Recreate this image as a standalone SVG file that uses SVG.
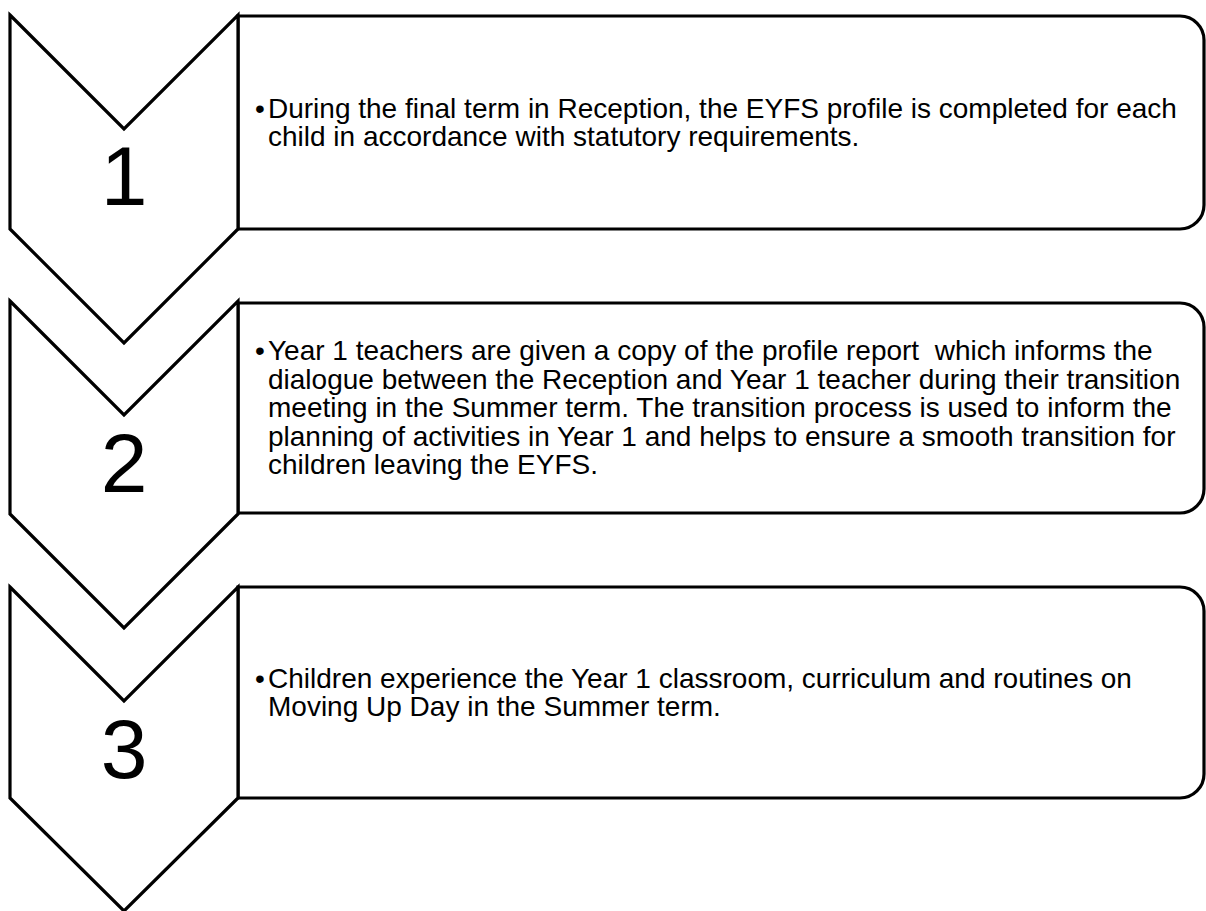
<svg xmlns="http://www.w3.org/2000/svg" width="1206" height="911" viewBox="0 0 1206 911">
<style>
.shape{fill:#fff;stroke:#000;stroke-width:3.2;stroke-linejoin:miter}
.num{font-family:"Liberation Sans",Arial,sans-serif;font-size:84px;text-anchor:middle;fill:#000}
.txt{font-family:"Liberation Sans",Arial,sans-serif;font-size:28px;fill:#000;white-space:pre}
</style>
<rect width="1206" height="911" fill="#fff"/>
<g id="connectors"/>
<g id="box1">
<path class="shape" d="M238,16 H1180 A24,24 0 0 1 1204,40 V205 A24,24 0 0 1 1180,229 H238 Z"/>
<text class="txt" x="255" y="118">•</text>
<text class="txt"><tspan x="268" y="118">During the final term in Reception, the EYFS profile is completed for each</tspan><tspan x="268" y="146">child in accordance with statutory requirements.</tspan></text>
</g>
<g id="box2">
<path class="shape" d="M238,303 H1180 A24,24 0 0 1 1204,327 V489 A24,24 0 0 1 1180,513 H238 Z"/>
<text class="txt" x="255" y="360">•</text>
<text class="txt" xml:space="preserve"><tspan x="268" y="360">Year 1 teachers are given a copy of the profile report  which informs the</tspan><tspan x="268" y="388.5">dialogue between the Reception and Year 1 teacher during their transition</tspan><tspan x="268" y="417">meeting in the Summer term. The transition process is used to inform the</tspan><tspan x="268" y="445.5">planning of activities in Year 1 and helps to ensure a smooth transition for</tspan><tspan x="268" y="474">children leaving the EYFS.</tspan></text>
</g>
<g id="box3">
<path class="shape" d="M238,587 H1180 A24,24 0 0 1 1204,611 V774 A24,24 0 0 1 1180,798 H238 Z"/>
<text class="txt" x="255" y="688">•</text>
<text class="txt"><tspan x="268" y="688">Children experience the Year 1 classroom, curriculum and routines on</tspan><tspan x="268" y="716">Moving Up Day in the Summer term.</tspan></text>
</g>
<g id="chevron1">
<polygon class="shape" points="10,15 124,129 238,15 238,229 124,343 10,229"/>
<text class="num" x="124" y="205">1</text>
</g>
<g id="chevron2">
<polygon class="shape" points="10,301 124,415 238,301 238,514 124,628 10,514"/>
<text class="num" x="124" y="492">2</text>
</g>
<g id="chevron3">
<polygon class="shape" points="10,587 124,701 238,587 238,798 124,911 10,798"/>
<text class="num" x="124" y="778">3</text>
</g>
</svg>
